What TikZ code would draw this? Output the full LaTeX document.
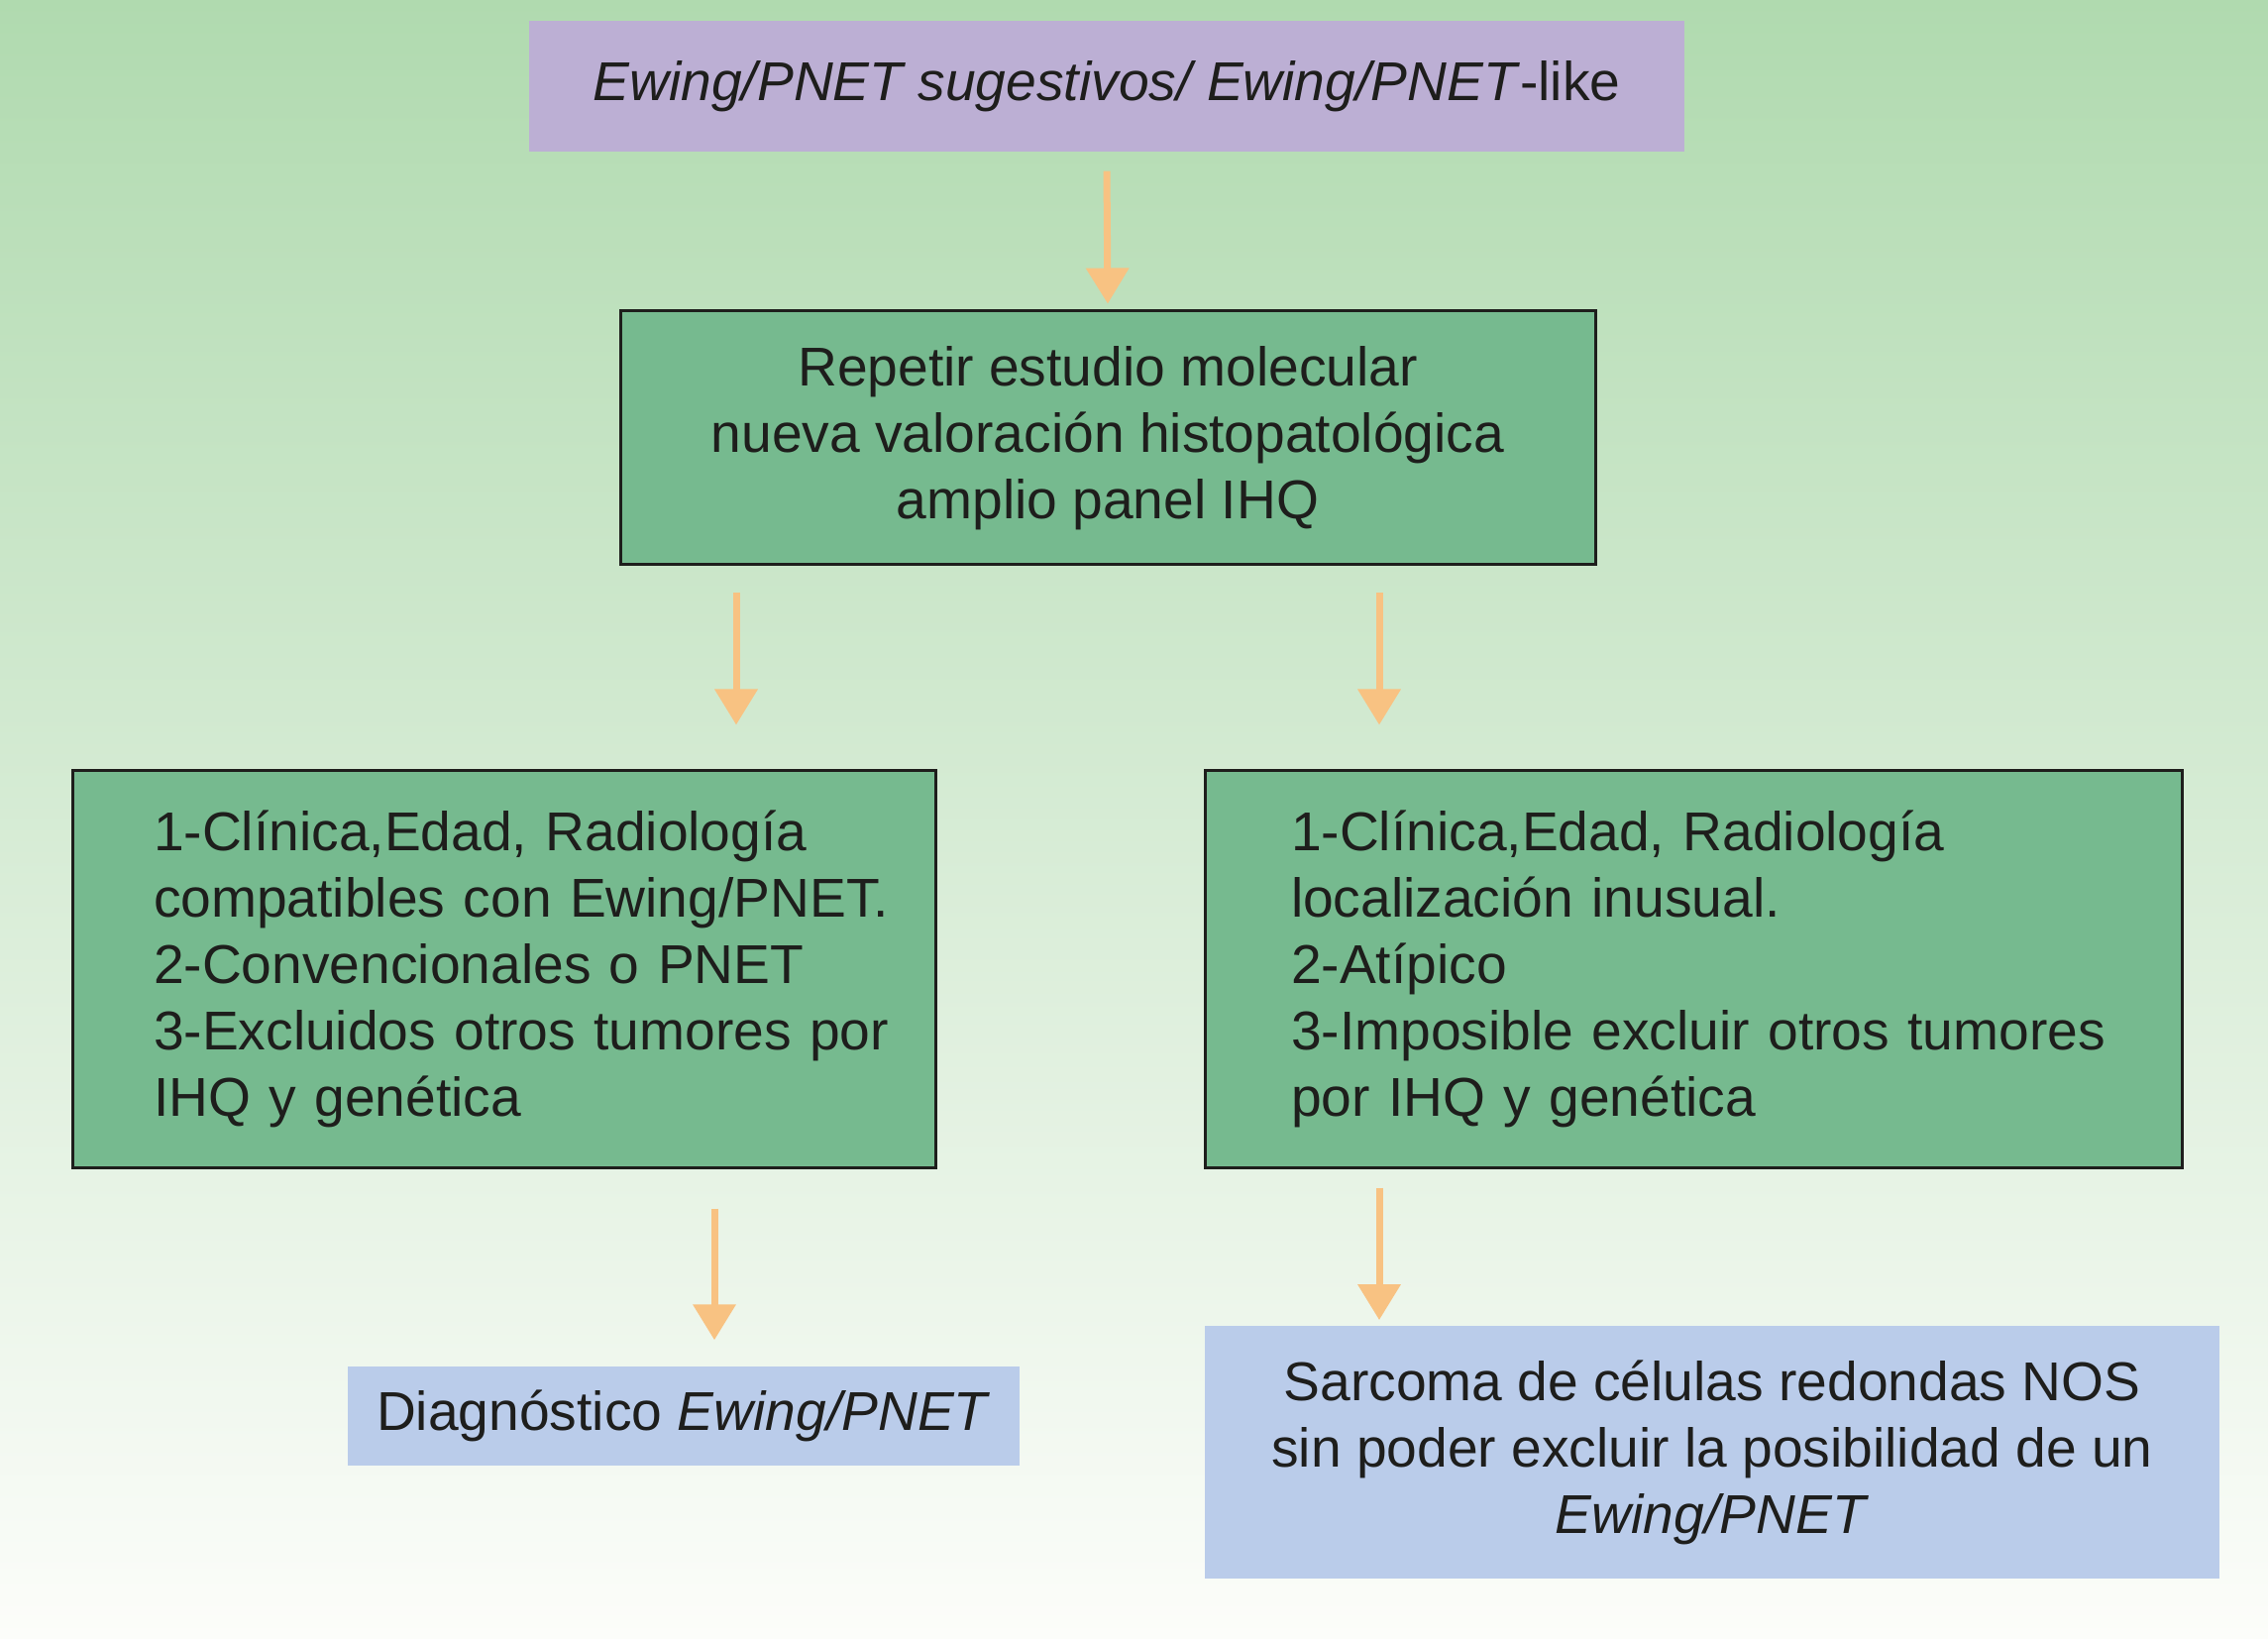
\documentclass[tikz,border=0pt]{standalone}
\usepackage{fontspec}
\setmainfont{Liberation Sans}
\usetikzlibrary{arrows.meta}

\definecolor{fondoarriba}{RGB}{176,218,175}
\definecolor{fondoabajo}{RGB}{252,253,250}
\definecolor{lila}{RGB}{188,175,212}
\definecolor{verde}{RGB}{118,186,143}
\definecolor{azul}{RGB}{186,204,234}
\definecolor{naranja}{RGB}{248,194,130}
\definecolor{tinta}{RGB}{30,30,28}

\tikzset{
  caja/.style={draw=tinta, line width=0.3mm, fill=verde, inner sep=0pt, text=tinta},
  plana/.style={fill=#1, inner sep=0pt, text=tinta},
  lista/.style={caja, align=left, inner xsep=0.4cm, execute at begin node={\leftskip=#1}},
  flecha/.style={draw=naranja, line width=0.7mm, -{Triangle[width=4.2mm,length=3.6mm]}}
}

\begin{document}
\begin{tikzpicture}[font=\fontsize{15.7}{19.07}\selectfont]
                \useasboundingbox (0,0) rectangle (22.89,16.53);
                \shade[top color=fondoarriba, bottom color=fondoabajo] (0,0) rectangle (22.89,16.53);

                % cajas
                \node[plana=lila, minimum width=11.66cm, minimum height=1.32cm] (sug) at (11.17,15.66) {\textit{Ewing/PNET sugestivos/ Ewing/PNET}-like};
                \node[caja, align=center, minimum width=9.84cm, minimum height=2.56cm] (rep) at (11.18,12.11) {Repetir estudio molecular\\nueva valoración histopatológica\\amplio panel IHQ};

                \node[lista=0.42cm, text width=7.91cm, minimum height=4.01cm] (izq) at (5.085,6.755) {1-Clínica,Edad, Radiología\\compatibles con Ewing/PNET.\\2-Convencionales o PNET\\3-Excluidos otros tumores por\\IHQ y genética};
                \node[lista=0.47cm, text width=9.06cm, minimum height=4.01cm] (der) at (17.09,6.755) {1-Clínica,Edad, Radiología\\localización inusual.\\2-Atípico\\3-Imposible excluir otros tumores\\por IHQ y genética};

                \node[plana=azul, minimum width=6.78cm, minimum height=1.0cm] (diag) at (6.90,2.24) {Diagnóstico \textit{Ewing/PNET}};
                \node[plana=azul, align=center, minimum width=10.24cm, minimum height=2.555cm] (sarc) at (17.28,1.875) {Sarcoma de células redondas NOS\\sin poder excluir la posibilidad de un\\\textit{Ewing/PNET}};

                % flechas
                \draw[flecha] ([yshift=-0.19cm]sug.south) -- ([yshift=0.06cm]rep.north);

                \coordinate (fin2) at ([yshift=0.44cm]izq.north);
                \draw[flecha] ([xshift=-3.75cm,yshift=-0.27cm]rep.south) coordinate (ini2) -- (ini2 |- fin2);

                \coordinate (fin3) at ([yshift=0.44cm]der.north);
                \draw[flecha] ([xshift=2.74cm,yshift=-0.27cm]rep.south) coordinate (ini3) -- (ini3 |- fin3);

                \coordinate (fin4) at ([yshift=0.26cm]diag.north);
                \draw[flecha] ([xshift=2.125cm,yshift=-0.40cm]izq.south) coordinate (ini4) -- (ini4 |- fin4);

                \coordinate (fin5) at ([yshift=0.05cm]sarc.north);
                \draw[flecha] ([xshift=-3.17cm,yshift=-0.19cm]der.south) coordinate (ini5) -- (ini5 |- fin5);

            \end{tikzpicture}
\end{document}
